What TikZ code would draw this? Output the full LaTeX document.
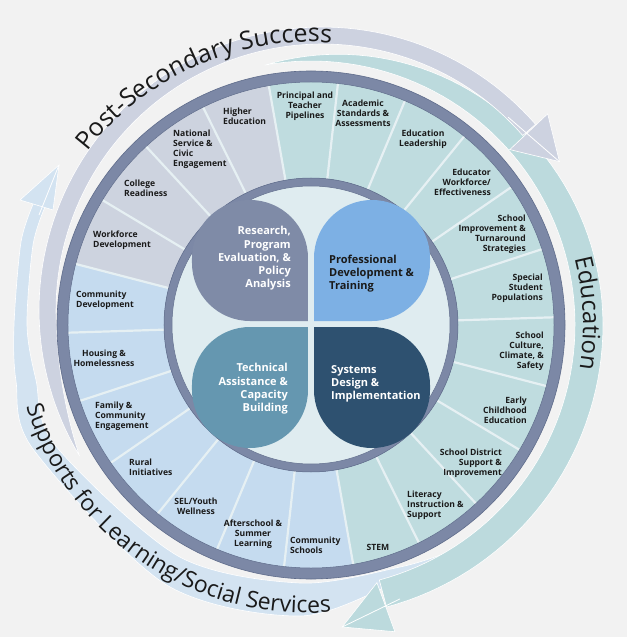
\documentclass[tikz,border=0pt]{standalone}
\usepackage{fontspec}
\setmainfont{Open Sans}
\usetikzlibrary{calc,decorations.text}
\definecolor{bg}{HTML}{F2F2F2}
\definecolor{ringc}{HTML}{7C88A6}
\definecolor{ringd}{HTML}{5F6C8B}
\definecolor{segL}{HTML}{CDD3DF}
\definecolor{segT}{HTML}{BFDCDF}
\definecolor{segB}{HTML}{C5DBEF}
\definecolor{core}{HTML}{DFECF0}
\definecolor{divc}{HTML}{E6F0F3}
\definecolor{arrL}{HTML}{CDD2E0}
\definecolor{arrT}{HTML}{BCDADD}
\definecolor{arrB}{HTML}{D3E3F1}
\definecolor{petR}{HTML}{7F8BA7}
\definecolor{petP}{HTML}{7DB0E4}
\definecolor{petT}{HTML}{6597B0}
\definecolor{petS}{HTML}{2E5170}
\definecolor{txt}{HTML}{1A1A1A}
\begin{document}
\begin{tikzpicture}[x=1pt,y=1pt,
  seglab/.style={font=\bfseries\fontsize{8.6}{10}\selectfont, text=txt, inner sep=0pt},
  petlab/.style={font=\bfseries\fontsize{11}{13.3}\selectfont, inner sep=0pt},
  arrowout/.style={draw=white, line width=0.6pt},
  streak/.style={white, line width=0.8pt},
  declare function={
    tl(\a)=min(1,(211-\a)/30);
    wl(\a)=17*(1-(1-tl(\a))*(1-tl(\a)));
    tt(\a)=min(1,(100-\a)/100);
    wt(\a)=28*(1-(1-tt(\a))*(1-tt(\a)));
  }]
\useasboundingbox (-311,-312) rectangle (316,325);
\fill[bg] (-311,-312) rectangle (316,325);

% ---------- light blue arrow (Supports) ----------
\fill[arrB, arrowout] plot[smooth] coordinates {(244,-110) (216,-166) (189,-214) (140,-238) (89,-256) (-11,-291) (-146,-259) (-278,-124) (-295,-56) (-297,0) (-290,83) (-277,123)}
  -- plot[smooth] coordinates {(-266,118) (-278,80) (-284,0) (-275,-55) (-256,-120) (-133,-231) (-11,-258) (89,-242) (140,-226) (189,-205) (218,-160) (244,-110)} -- cycle;
\coordinate (bh1) at (-291,125);
\coordinate (bh2) at (-258,115);
\coordinate (bht) at (-252,160);
\fill[arrB, arrowout] (bh1) -- (bht) -- (bh2) -- cycle;
\draw[streak] (-272,110) -- (bht);

% ---------- teal arrow (Education) ----------
\fill[arrT, arrowout] plot[domain=100:-75, samples=80, variable=\t] ({(264+wt(\t))*cos(\t)},{(264+wt(\t))*sin(\t)})
  -- plot[domain=-75:100, samples=80, variable=\t] ({264*cos(\t)},{264*sin(\t)}) -- cycle;
\coordinate (th1) at (-75.65:266);
\coordinate (th2) at (-74.7:318);
\coordinate (tht) at (-84.1:303.6);
\fill[arrT, arrowout] (th1) -- (tht) -- (th2) -- cycle;
\draw[streak] (-72:288) -- (tht);

% ---------- lavender arrow (Post-Secondary) ----------
\fill[arrL, arrowout] plot[domain=41:211, samples=90, variable=\t] ({11+283*cos(\t)},{15+283*sin(\t)})
  -- plot[domain=211:41, samples=90, variable=\t] ({11+(283-wl(\t))*cos(\t)},{15+(283-wl(\t))*sin(\t)}) -- cycle;
\coordinate (lh1) at ($(11,15)+(41:299)$);
\coordinate (lh2) at ($(11,15)+(40.5:247)$);
\coordinate (lht) at ($(11,15)+(32:280)$);
\fill[arrL, arrowout] (lh1) -- (lht) -- (lh2) -- cycle;
\draw[streak] ($(11,15)+(46:268)$) -- (lht);

% ---------- curved titles ----------
\path[decorate, decoration={text along path, text align=center,
  text={|\fontsize{25}{25}\selectfont\color{txt}|Post-Secondary Success}}]
  (154:283) arc[start angle=154, end angle=74, radius=283pt];
\path[decorate, decoration={text along path, text align=center,
  text={|\fontsize{24}{24}\selectfont\color{txt}|Education}}]
  (30:272) arc[start angle=30, end angle=-25, radius=272pt];
\path[decorate, decoration={text along path, text align=center,
  text={|\fontsize{23}{23}\selectfont\color{txt}|Supports for Learning/Social Services}}]
  ($(-4,6)+(-189:294)$) arc[start angle=-189, end angle=-59, radius=294pt];

% ---------- wheel ----------
\fill[ringc, draw=ringd, line width=0.6pt] (0,0) circle[radius=254pt];
\foreach \i in {0,...,21}{
  \pgfmathsetmacro\a{100-\i*360/22}
  \pgfmathsetmacro\b{\a-360/22}
  \ifnum\i<11 \def\sc{segT}\else\ifnum\i<18 \def\sc{segB}\else\def\sc{segL}\fi\fi
  \fill[\sc] (\a:147) -- (\a:243) arc[start angle=\a, end angle=\b, radius=243pt] -- (\b:147) arc[start angle=\b, end angle=\a, radius=147pt] -- cycle;
}
\foreach \i in {0,...,21}{
  \pgfmathsetmacro\a{100-\i*360/22}
  \draw[divc, line width=2.2pt] (\a:147) -- (\a:243);
}
\draw[ringd, line width=0.5pt] (0,0) circle[radius=243pt];
\fill[ringc, draw=ringd, line width=0.5pt] (0,0) circle[radius=147pt];
\fill[core, draw=ringd, line width=0.5pt] (0,0) circle[radius=139pt];

% ---------- petals ----------
\fill[petR] (-3,4) -- (-61,4) arc[start angle=270, end angle=180, radius=58pt] -- (-119,67) arc[start angle=180, end angle=90, radius=58pt] arc[start angle=90, end angle=0, radius=58pt] -- cycle;
\fill[petP] (3,4) -- (61,4) arc[start angle=270, end angle=360, radius=58pt] -- (119,67) arc[start angle=0, end angle=90, radius=58pt] arc[start angle=90, end angle=180, radius=58pt] -- cycle;
\fill[petT] (-3,-2) -- (-61,-2) arc[start angle=90, end angle=180, radius=58pt] -- (-119,-65) arc[start angle=180, end angle=270, radius=58pt] arc[start angle=270, end angle=360, radius=58pt] -- cycle;
\fill[petS] (3,-2) -- (61,-2) arc[start angle=90, end angle=0, radius=58pt] -- (119,-65) arc[start angle=0, end angle=-90, radius=58pt] arc[start angle=-90, end angle=-180, radius=58pt] -- cycle;

\node[petlab, text=white, align=right, anchor=east] (pR) at (-20,66.5) {Research,\\Program\\Evaluation, \&\\Policy\\Analysis};
\node[petlab, text=txt, align=left, anchor=west] (pP) at (18,51.5) {Professional\\Development \&\\Training};
\node[petlab, text=white, align=right, anchor=east] (pT) at (-23,-64) {Technical\\Assistance \&\\Capacity\\Building};
\node[petlab, text=white, align=left, anchor=west] (pS) at (20,-59) {Systems\\Design \&\\Implementation};

% ---------- segment labels ----------
\node[seglab, align=center] (s1) at (-6,219) {Principal and\\Teacher\\Pipelines};
\node[seglab, align=center] (s2) at (52,212) {Academic\\Standards \&\\Assessments};
\node[seglab, align=center] (s3) at (112,185.5) {Education\\Leadership};
\node[seglab, align=right, anchor=east] (s4) at (180,142.5) {Educator\\Workforce/\\Effectiveness};
\node[seglab, align=right, anchor=east] (s5) at (215,91) {School\\Improvement \&\\Turnaround\\Strategies};
\node[seglab, align=right, anchor=east] (s6) at (232,37) {Special\\Student\\Populations};
\node[seglab, align=right, anchor=east] (s7) at (233,-26.5) {School\\Culture,\\Climate, \&\\Safety};
\node[seglab, align=right, anchor=east] (s8) at (216,-85) {Early\\Childhood\\Education};
\node[seglab, align=right, anchor=east] (s9) at (191,-138) {School District\\Support \&\\Improvement};
\node[seglab, align=left, anchor=west] (s10) at (96,-180) {Literacy\\Instruction \&\\Support};
\node[seglab, align=center] (s11) at (67,-222) {STEM};
\node[seglab, align=left, anchor=west] (s12) at (-21,-220) {Community\\Schools};
\node[seglab, align=center] (s13) at (-58,-209) {Afterschool \&\\Summer\\Learning};
\node[seglab, align=center] (s14) at (-115,-181) {SEL/Youth\\Wellness};
\node[seglab, align=left, anchor=west] (s15) at (-182,-142) {Rural\\Initiatives};
\node[seglab, align=left, anchor=west] (s16) at (-216,-91) {Family \&\\Community\\Engagement};
\node[seglab, align=center] (s17) at (-207,-33) {Housing \&\\Homelessness};
\node[seglab, align=left, anchor=west] (s18) at (-235,25) {Community\\Development};
\node[seglab, align=left, anchor=west] (s19) at (-218,84.5) {Workforce\\Development};
\node[seglab, align=left, anchor=west] (s20) at (-187,137) {College\\Readiness};
\node[seglab, align=left, anchor=west] (s21) at (-138,175.5) {National\\Service \&\\Civic\\Engagement};
\node[seglab, align=left, anchor=west] (s22) at (-88,209) {Higher\\Education};
\end{tikzpicture}
\end{document}
